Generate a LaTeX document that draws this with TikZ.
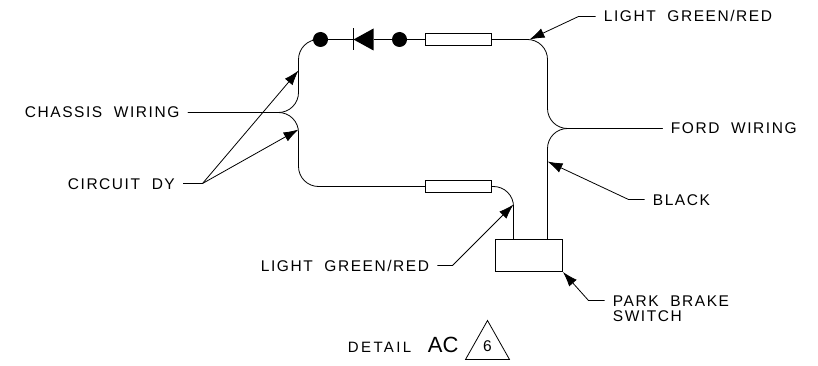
\documentclass[tikz,border=0pt]{standalone}
\usepackage{fontspec}
\setmainfont{Liberation Sans}
\newfontfamily\labelfont[LetterSpace=10,WordSpace=2]{Liberation Sans}
\newfontfamily\detailfont[LetterSpace=16]{Liberation Sans}
\usetikzlibrary{calc,arrows.meta}

\begin{document}
\begin{tikzpicture}[x=1pt, y=-1pt, line width=0.8pt]

\pgfmathsetlengthmacro{\fuseWidth}{66pt}
\pgfmathsetlengthmacro{\fuseHeight}{12pt}
\pgfmathsetlengthmacro{\dotSize}{15pt}
\tikzset{
  fuse/.style={draw, minimum width=\fuseWidth, minimum height=\fuseHeight, inner sep=0pt, fill=white},
  splice/.style={circle, fill=black, minimum size=\dotSize, inner sep=0pt},
  wirelabel/.style={anchor=west, inner xsep=8pt, inner ysep=0pt, text height=11pt, text depth=0pt, font=\labelfont\fontsize{15.5pt}{17pt}\selectfont},
  wire/.style={rounded corners=20pt},
  leader/.style={-{Latex[length=15pt,width=10pt]}},
}

\useasboundingbox (-0.5,-0.5) rectangle (817.5,365.5);

% parts on the wires
\node[splice,name=dot1] at (320,39) {};
\node[splice,name=dot2] at (399,39) {};
\node[fuse,name=fuse1] at (458,39) {};
\node[fuse,name=fuse2] at (458,186) {};
\node[draw, minimum width=67pt, minimum height=32pt, inner sep=0pt, name=switch] at (528.5,255) {};

% diode
\coordinate (diodeTip) at (353,39);
\coordinate (diodeBase) at (373,39);
\fill (diodeTip) -- ($(diodeBase)+(0,-11)$) -- ($(diodeBase)+(0,11)$) -- cycle;
\draw ($(diodeTip)+(0,-11)$) -- ($(diodeTip)+(0,11)$);
\draw (dot1) -- (diodeTip);
\draw (diodeBase) -- (dot2);
\draw (dot2) -- (fuse1);

% labels
\node[wirelabel,name=chassis] at (16,112) {CHASSIS WIRING};
\node[wirelabel,name=circuit] at (59,183) {CIRCUIT DY};
\node[wirelabel,name=greenTop] at (595,16) {LIGHT GREEN/RED};
\node[wirelabel,name=ford] at (662,128) {FORD WIRING};
\node[wirelabel,name=black] at (644,199) {BLACK};
\node[wirelabel,name=greenLow] at (252,265) {LIGHT GREEN/RED};
\node[wirelabel,name=park] at (604,300) {PARK BRAKE};
\node[wirelabel,name=parkSwitch] at (604,315) {SWITCH};

% wires
\coordinate (leftFork) at (298,112);
\coordinate (rightFork) at (547,128);
\draw[wire] (chassis.east) -- (leftFork) -- (298,39) -- (dot1);
\draw[wire] (chassis.east) -- (leftFork) -- (298,186) -- (fuse2.west);
\draw[wire] (fuse1.east) -- (547,39) -- (rightFork) -- (ford.west);
\draw[wire] (switch.north -| rightFork) -- (rightFork) -- (ford.west);
\draw[wire] (fuse2.east) -- (513,186) -- (513,239);

% leaders
\coordinate (circuitBend) at (202,183);
\draw (circuit.east) -- (circuitBend);
\draw[leader] (circuitBend) -- (298,70);
\draw[leader] (circuitBend) -- (298,129);
\draw[leader] (greenTop.west) -- (578,16) -- (529,39);
\draw[leader] (black.west) -- (628,199) -- (547,161);
\draw[leader] (greenLow.east) -- (452,265) -- (513,204);
\draw[leader] (park.west) -- (588,300) -- (switch.south east);

% detail mark
\node[anchor=base west, inner sep=0pt, name=detail, font=\detailfont\fontsize{15pt}{17pt}\selectfont] at (347,351.5) {DETAIL};
\node[anchor=base west, inner sep=0pt, name=detailId, font=\fontsize{22pt}{24pt}\selectfont] at (427,351.5) {AC};
\draw (487,320) -- (465,359) -- (509,359) -- cycle;
\node[inner sep=0pt, name=sheet, font=\fontsize{15.5pt}{17pt}\selectfont] at (487,346) {6};

\end{tikzpicture}
\end{document}
